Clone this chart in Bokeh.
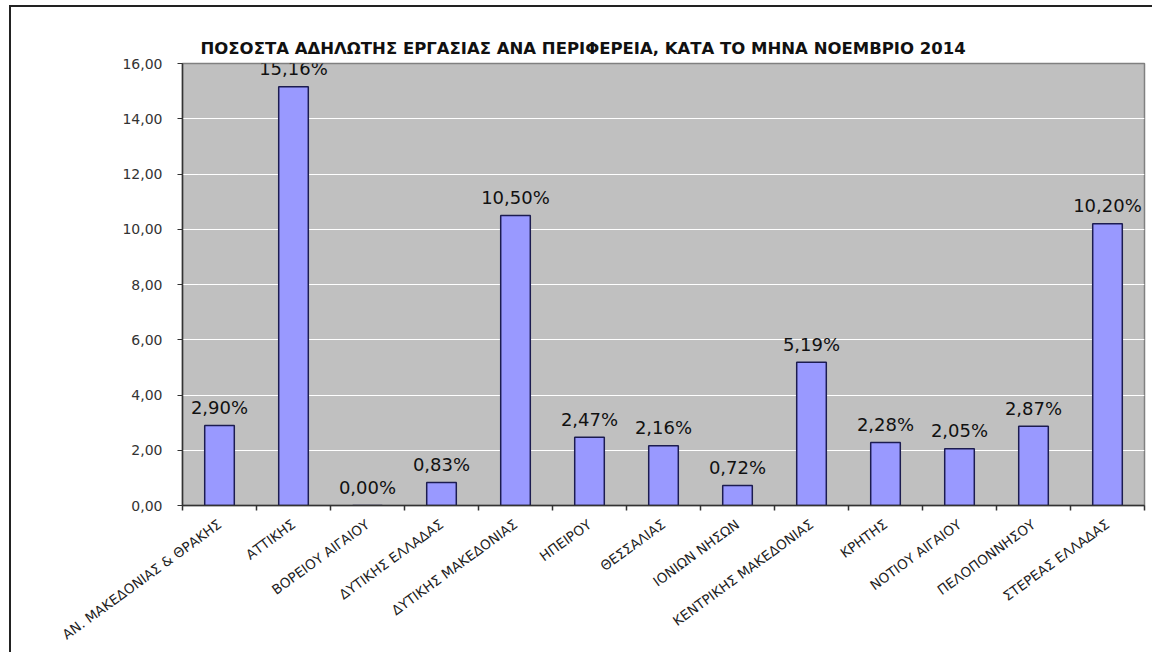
import numpy as np
from bokeh.plotting import figure
from bokeh.models import (ColumnDataSource, FixedTicker, CustomJSTickFormatter,
                          LabelSet, Range1d, Title)
from bokeh.core.properties import value
from bokeh.embed import file_html
from bokeh.resources import INLINE

title_text = "ΠΟΣΟΣΤΑ ΑΔΗΛΩΤΗΣ ΕΡΓΑΣΙΑΣ ΑΝΑ ΠΕΡΙΦΕΡΕΙΑ, ΚΑΤΑ ΤΟ ΜΗΝΑ  ΝΟΕΜΒΡΙΟ 2014"

regions = [
    "ΑΝ. ΜΑΚΕΔΟΝΙΑΣ & ΘΡΑΚΗΣ",
    "ΑΤΤΙΚΗΣ",
    "ΒΟΡΕΙΟΥ ΑΙΓΑΙΟΥ",
    "ΔΥΤΙΚΗΣ ΕΛΛΑΔΑΣ",
    "ΔΥΤΙΚΗΣ ΜΑΚΕΔΟΝΙΑΣ",
    "ΗΠΕΙΡΟΥ",
    "ΘΕΣΣΑΛΙΑΣ",
    "ΙΟΝΙΩΝ ΝΗΣΩΝ",
    "ΚΕΝΤΡΙΚΗΣ ΜΑΚΕΔΟΝΙΑΣ",
    "ΚΡΗΤΗΣ",
    "ΝΟΤΙΟΥ ΑΙΓΑΙΟΥ",
    "ΠΕΛΟΠΟΝΝΗΣΟΥ",
    "ΣΤΕΡΕΑΣ ΕΛΛΑΔΑΣ",
]
values = [2.90, 15.16, 0.00, 0.83, 10.50, 2.47, 2.16, 0.72, 5.19, 2.28, 2.05, 2.87, 10.20]
y_ticks = [0, 2, 4, 6, 8, 10, 12, 14, 16]

n = len(regions)
xs = np.arange(n) + 0.5
labels = [f"{v:.2f}".replace(".", ",") + "%" for v in values]
src = ColumnDataSource(dict(x=xs, v=values, label=labels, name=regions))

p = figure(width=1143, height=647, x_range=Range1d(0, n), y_range=Range1d(0, 16),
           output_backend="svg", toolbar_location=None,
           min_border_left=171, min_border_right=10, min_border_top=56,
           min_border_bottom=149)
p.styles = {"border-top": "2px solid #222222", "border-left": "2px solid #222222",
            "margin-top": "5px", "margin-left": "9px"}

p.background_fill_color = "#C0C0C0"
p.border_fill_color = "white"
p.outline_line_color = "#808080"
p.outline_line_width = 1.5

p.ygrid.ticker = FixedTicker(ticks=y_ticks)
p.ygrid.grid_line_color = "white"
p.ygrid.grid_line_width = 1
p.xgrid.visible = False

p.vbar(x="x", top="v", width=0.4, source=src, fill_color="#9999FF",
       line_color="#1c1c50", line_width=1.5)

ya = p.yaxis[0]
ya.ticker = FixedTicker(ticks=y_ticks)
ya.formatter = CustomJSTickFormatter(code="return tick.toFixed(2).replace('.', ',');")
ya.major_label_text_font = "DejaVu Sans"
ya.major_label_text_font_size = "14px"
ya.major_label_text_color = "#333333"
ya.axis_line_color = "#333333"
ya.axis_line_width = 1.5
ya.major_tick_out = 5
ya.major_tick_in = 0
ya.major_tick_line_color = "#333333"
ya.minor_tick_line_color = None
ya.major_label_standoff = 15

xa = p.xaxis[0]
xa.ticker = FixedTicker(ticks=list(xs), minor_ticks=list(range(n + 1)))
xa.formatter = CustomJSTickFormatter(args=dict(names=regions),
                                     code="return names[Math.floor(tick)];")
xa.major_label_orientation = 0.63
xa.major_label_text_font = "DejaVu Sans"
xa.major_label_text_font_size = "13.5px"
xa.major_label_text_color = "#222222"
xa.axis_line_color = "#333333"
xa.axis_line_width = 1.5
xa.major_tick_out = 0
xa.major_tick_in = 0
xa.minor_tick_out = 5
xa.minor_tick_in = 0
xa.minor_tick_line_color = "#333333"
xa.minor_tick_line_width = 1.5
xa.major_label_standoff = 12

p.add_layout(LabelSet(x="x", y="v", text="label", source=src, text_align="center",
                      text_baseline="middle", y_offset=18,
                      text_font=value("DejaVu Sans"), text_font_size="18px",
                      text_color="#111111"))

p.add_layout(Title(text=title_text, align="left", offset=18, text_font="DejaVu Sans",
                   text_font_size="16.5px", text_font_style="bold", text_color="#111111",
                   standoff=12), "above")

open("out.html", "w").write(file_html(p, INLINE))
